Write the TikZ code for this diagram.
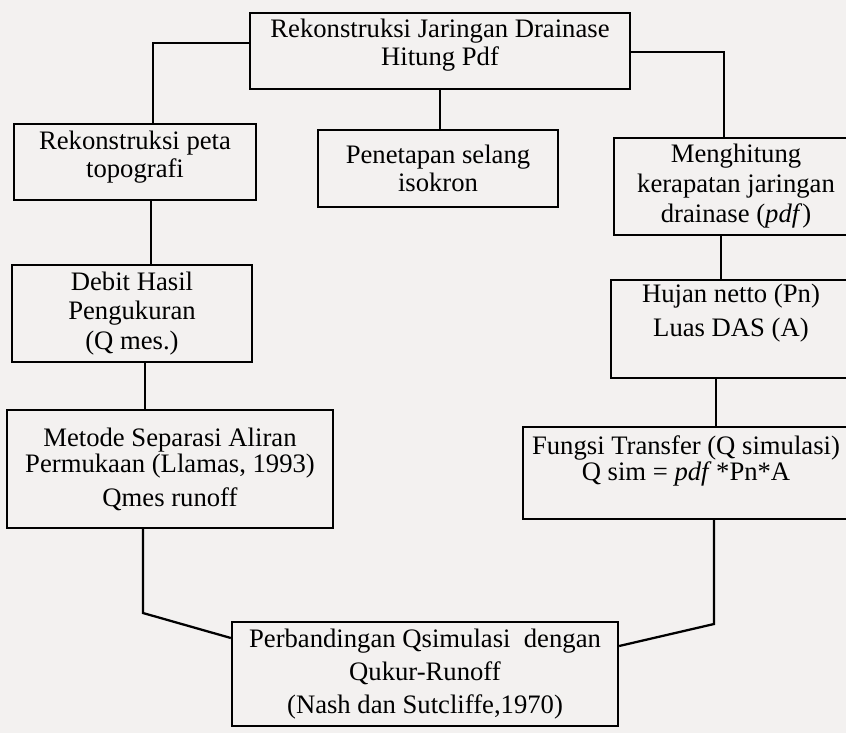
\documentclass[tikz,border=0pt]{standalone}
\usepackage{fontspec}
\setmainfont{Liberation Serif}
\usepackage{tikz}
\definecolor{kertas}{RGB}{243,241,240}

\begin{document}
\begin{tikzpicture}
[x=0.75pt,y=-0.75pt,line width=1.7pt,every node/.style={draw,align=center,inner sep=2pt,font=\fontsize{20pt}{21pt}\selectfont}]
\useasboundingbox (0,0) rectangle (846,733);
\clip (0,0) rectangle (846,733);
\fill[kertas] (0,0) rectangle (846,733);
\node[minimum width=285pt,minimum height=57pt] (top) at (440,51) {Rekonstruksi Jaringan Drainase\\Hitung Pdf\\[-7.6pt]\mbox{}};
\node[minimum width=181.5pt,minimum height=57pt] (topo) at (135,162) {Rekonstruksi peta\\topografi\\[-9pt]\mbox{}};
\node[minimum width=180pt,minimum height=57.75pt] (isokron) at (438,168.5) {Penetapan selang\\isokron};
\node[minimum width=183pt,minimum height=72.75pt] (pdf) at (736,186.5) {Menghitung\\[1.5pt]kerapatan jaringan\\[1.5pt]drainase (\textit{pdf})};
\node[minimum width=180pt,minimum height=72.75pt] (debit) at (132,313.5) {Debit Hasil\\[1pt]Pengukuran\\[1pt](Q mes.)};
\node[minimum width=180pt,minimum height=73.5pt] (hujan) at (731,329) {Hujan netto (Pn)\\[4.5pt]Luas DAS (A)\\[7pt]\mbox{}};
\node[minimum width=244.5pt,minimum height=88.5pt] (metode) at (170,469) {Metode Separasi Aliran\\[-1.5pt]Permukaan (Llamas, 1993)\\[4.5pt]Qmes runoff};
\node[minimum width=244.5pt,minimum height=69pt] (fungsi) at (686,473) {Fungsi Transfer (Q simulasi)\\[-1.5pt]Q sim = \textit{pdf}\,*Pn*A\\[1.3pt]\mbox{}};
\node[minimum width=289.5pt,minimum height=78pt] (banding) at (425,674) {Perbandingan Qsimulasi\ \ dengan\\[4pt]Qukur-Runoff\\[4pt](Nash dan Sutcliffe,1970)};
\coordinate (kiri) at (153,43);
\coordinate (kanan) at (724,52);
\coordinate (bawahKiri) at (143,613);
\coordinate (bawahKanan) at (714,624);
\draw (top.west |- kiri) -| (topo.north -| kiri);
\draw (top.east |- kanan) -| (pdf.north -| kanan);
\foreach \from/\to/\x in {top/isokron/440,topo/debit/151,debit/metode/145,pdf/hujan/721,hujan/fungsi/716}
\draw (\from.south -| \x,0) -- (\to.north -| \x,0);
\draw (metode.south -| bawahKiri) -- (bawahKiri) -- (banding.west |- 0,638);
\draw (fungsi.south -| bawahKanan) -- (bawahKanan) -- (banding.east |- 0,646);
\end{tikzpicture}
\end{document}
